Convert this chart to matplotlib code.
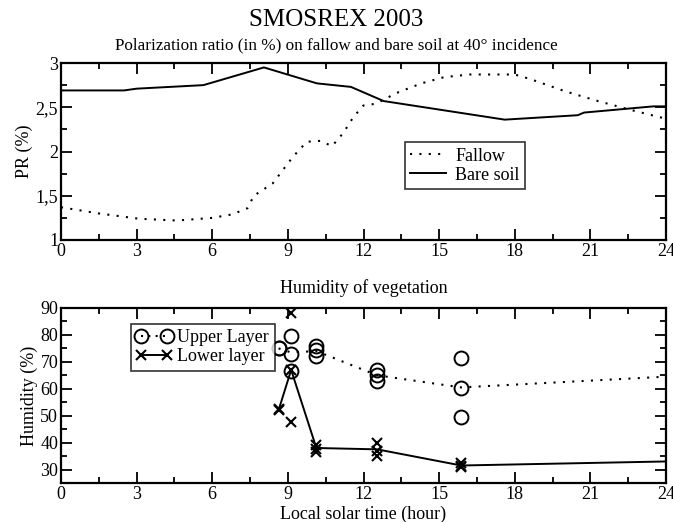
import matplotlib
matplotlib.use("Agg")
import matplotlib.pyplot as plt
from matplotlib.ticker import MultipleLocator, FuncFormatter

plt.rcParams['font.family'] = ['Liberation Serif', 'DejaVu Serif']
plt.rcParams['mathtext.fontset'] = 'stix'

# Polarization ratio (top panel)
fallow_t = [0.0, 1.5, 3.1, 4.6, 6.0, 6.8, 7.4, 7.65, 8.4, 9.2, 9.75, 10.3, 10.75,
            11.2, 11.6, 12.0, 12.5, 13.3, 14.3, 15.2, 16.2, 18.0, 18.6, 20.0,
            21.3, 22.6, 24.0]
fallow_pr = [1.37, 1.30, 1.24, 1.22, 1.25, 1.29, 1.36, 1.50, 1.64, 1.94, 2.11,
             2.12, 2.06, 2.21, 2.39, 2.52, 2.54, 2.66, 2.77, 2.84, 2.87, 2.87,
             2.82, 2.68, 2.57, 2.47, 2.37]
bare_t = [0.0, 2.5, 3.0, 5.65, 8.05, 9.1, 10.15, 11.5, 12.8, 17.6, 20.5, 20.75,
          23.5, 24.0]
bare_pr = [2.69, 2.69, 2.71, 2.75, 2.95, 2.86, 2.77, 2.73, 2.57, 2.36, 2.41,
           2.44, 2.51, 2.51]

# Humidity of vegetation (bottom panel)
upper_t = [8.63, 8.63, 9.13, 9.13, 9.13, 10.13, 10.13, 10.13, 12.54, 12.54,
           12.54, 15.88, 15.88, 15.88]
upper_h = [75, 75, 79.5, 73, 66.5, 76, 74.3, 72.2, 66.8, 65, 63, 71.4, 60.4, 49.5]
upper_mean_t = [8.63, 9.13, 10.13, 12.54, 15.88, 24.0]
upper_mean_h = [75, 73.5, 74, 65, 60.5, 64.5]

lower_t = [8.63, 8.63, 9.13, 9.13, 9.13, 10.13, 10.13, 10.13, 12.54, 12.54,
           12.54, 15.88, 15.88, 15.88]
lower_h = [52.5, 52, 88, 67, 47.5, 39, 37.5, 36.5, 39.8, 37, 35, 32.5, 31.5, 31]
lower_mean_t = [8.63, 9.13, 10.13, 12.54, 15.88, 24.0]
lower_mean_h = [52, 67, 38, 37.5, 31.5, 33]

fs = 13


def comma_fmt(v, pos):
    s = f"{v:g}"
    return s.replace(".", ",")


def style_axes(ax):
    ax.set_xlim(0, 24)
    ax.xaxis.set_major_locator(MultipleLocator(3))
    ax.xaxis.set_minor_locator(MultipleLocator(1.5))
    ax.tick_params(which='both', direction='in', top=True, right=True,
                   width=1.3, labelsize=fs, pad=2)
    ax.tick_params(which='major', length=8)
    ax.tick_params(which='minor', length=4)
    for sp in ax.spines.values():
        sp.set_linewidth(1.6)


fig = plt.figure(figsize=(6.73, 5.22), dpi=100)
ax1 = fig.add_axes([61 / 673, 1 - 240 / 522, 605 / 673, 177 / 522])
ax2 = fig.add_axes([61 / 673, 1 - 483 / 522, 605 / 673, 175 / 522])

# top panel
ax1.plot(fallow_t, fallow_pr, color='black', linestyle=(0, (1, 3.5)), lw=1.5,
         label='Fallow')
ax1.plot(bare_t, bare_pr, color='black', lw=1.4, label='Bare soil')
style_axes(ax1)
ax1.set_ylim(1, 3)
ax1.yaxis.set_major_locator(MultipleLocator(0.5))
ax1.yaxis.set_minor_locator(MultipleLocator(0.25))
ax1.yaxis.set_major_formatter(FuncFormatter(comma_fmt))
ax1.set_ylabel('PR (%)', fontsize=fs, labelpad=2)
leg1 = ax1.legend(loc='lower left', bbox_to_anchor=(0.553, 0.237),
                  fontsize=fs, frameon=True, fancybox=False, edgecolor='black',
                  handlelength=2.0, borderpad=0.3, labelspacing=0.1,
                  handletextpad=0.5)
leg1.get_frame().set_linewidth(1.2)

fig.text(0.5, 1 - 20 / 522, 'SMOSREX 2003', ha='center', va='center', fontsize=18)
fig.text(0.5, 1 - 45 / 522,
         'Polarization ratio (in %) on fallow and bare soil at 40° incidence',
         ha='center', va='center', fontsize=12.3)

# bottom panel
ax2.plot(upper_mean_t, upper_mean_h, color='black', linestyle=(0, (1, 3.5)),
         lw=1.5)
ax2.plot(lower_mean_t, lower_mean_h, color='black', lw=1.4)
ax2.plot(upper_t, upper_h, linestyle='none', marker='o', markersize=10,
         markerfacecolor='none', markeredgecolor='black', markeredgewidth=1.4)
ax2.plot(lower_t, lower_h, linestyle='none', marker='x', markersize=7,
         color='black', markeredgewidth=1.5)
h_up, = ax2.plot([], [], color='black', linestyle=(0, (1, 2.5)), lw=1.5,
                 marker='o', markersize=10, markerfacecolor='none',
                 markeredgewidth=1.4, label='Upper Layer')
h_lo, = ax2.plot([], [], color='black', lw=1.4, marker='x', markersize=7,
                 markeredgewidth=1.5, label='Lower layer')
style_axes(ax2)
ax2.set_ylim(25, 90)
ax2.yaxis.set_major_locator(MultipleLocator(10))
ax2.yaxis.set_minor_locator(MultipleLocator(5))
ax2.set_ylabel('Humidity (%)', fontsize=fs, labelpad=2)
ax2.set_xlabel('Local solar time (hour)', fontsize=fs, labelpad=2)
ax2.set_title('Humidity of vegetation', fontsize=fs, pad=11)
leg2 = ax2.legend(handles=[h_up, h_lo], loc='lower left',
                  bbox_to_anchor=(0.1, 0.59), numpoints=2, fontsize=fs,
                  frameon=True, fancybox=False, edgecolor='black',
                  handlelength=2.0, borderpad=0.3, labelspacing=0.1,
                  handletextpad=0.3)
leg2.get_frame().set_linewidth(1.2)

fig.savefig('out.png', dpi=100)
